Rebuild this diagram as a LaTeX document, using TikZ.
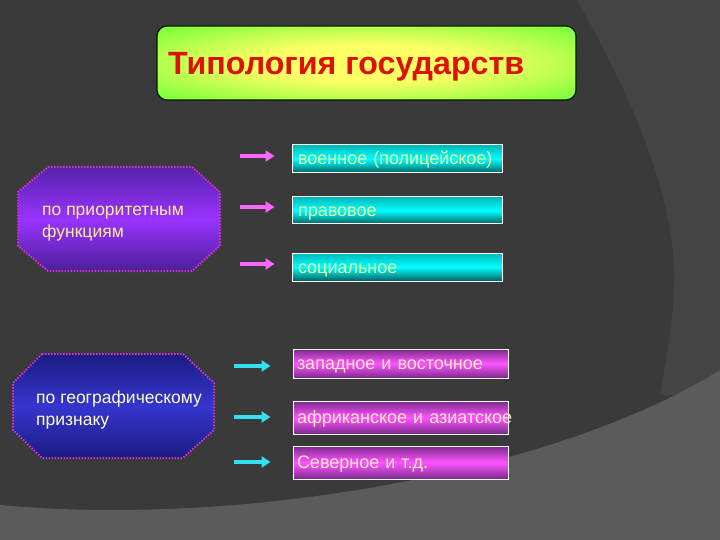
\documentclass[tikz,border=0pt]{standalone}
\usepackage{fontspec}
\setmainfont{Liberation Sans}
\usetikzlibrary{arrows.meta,shadings}
\definecolor{bgdark}{HTML}{3A3A3A}
\definecolor{bgmid}{HTML}{444444}
\definecolor{bglight}{HTML}{5B5B5B}
\definecolor{ttyel}{HTML}{FFFF66}
\definecolor{ttgreen}{HTML}{66FF33}
\definecolor{ttred}{HTML}{DD1100}
\definecolor{arrpink}{HTML}{FF66FF}
\definecolor{arrcyan}{HTML}{33E0F0}
\definecolor{cytop}{HTML}{00B8B8}
\definecolor{cymid}{HTML}{00FFFF}
\definecolor{cybot}{HTML}{006060}
\definecolor{cytext}{HTML}{E8FFA0}
\definecolor{mgedge}{HTML}{7A2A8C}
\definecolor{mgmid}{HTML}{FF55FF}
\definecolor{mgtext}{HTML}{FFE8C8}
\definecolor{pu1}{HTML}{5522AA}
\definecolor{pu2}{HTML}{9933FF}
\definecolor{putext}{HTML}{FFEE99}
\definecolor{bl1}{HTML}{1C1C80}
\definecolor{bl2}{HTML}{3535D0}
\definecolor{bltext}{HTML}{FFFFCC}
\definecolor{dotmag}{HTML}{CC33CC}
\pgfdeclareradialshading{titleglow}{\pgfpoint{0bp}{0bp}}{color(0bp)=(ttyel); color(12bp)=(ttyel); color(38bp)=(ttgreen); color(50bp)=(ttgreen)}
\tikzset{
  titlebox/.style={rectangle, rounded corners=10pt, draw={black!70!green!30!black}, line width=1.2pt, shading=titleglow, minimum width=419pt, minimum height=74pt, inner sep=0pt},
  cbox/.style={rectangle, draw=white, line width=1pt, top color=cytop, bottom color=cybot, middle color=cymid, minimum height=28pt, text width=198pt, inner xsep=6pt, inner ysep=0pt, text height=13pt, text depth=1pt, align=left, font=\fontsize{18}{20}\selectfont, text=cytext},
  mbox/.style={rectangle, draw=white, line width=1pt, top color=mgedge, bottom color=mgedge, middle color=mgmid, text width=207pt, inner xsep=4pt, inner ysep=0pt, text height=13pt, text depth=1pt, align=left, font=\fontsize{18}{20}\selectfont, text=mgtext},
  octo/.style={line width=2pt, draw=dotmag, dash pattern=on 1.5pt off 1.5pt},
  octtext/.style={anchor=base west, align=left, inner sep=0pt, font=\fontsize{17.5}{22}\selectfont},
  parr/.style={draw=arrpink, line width=4pt, -{Triangle[length=9pt,width=11pt]}},
  carr/.style={draw=arrcyan, line width=4pt, -{Triangle[length=9pt,width=11pt]}},
}
\begin{document}
\begin{tikzpicture}[x=1pt,y=-1pt]
\useasboundingbox (0,0) rectangle (720,540);
% background
\fill[bgdark] (0,0) rectangle (720,540);
\fill[bgmid] (577,0) .. controls (640,110) and (678,210) .. (674,290) .. controls (672,330) and (666,360) .. (660,395) -- (720,395) -- (720,0) -- cycle;
\fill[bglight] (0,505) .. controls (250,528) and (560,470) .. (720,370) -- (720,540) -- (0,540) -- cycle;
% title
\node[titlebox] (title) at (366.5,63) {};
\node[anchor=base west, inner sep=0pt, font=\bfseries\fontsize{32.2}{34}\selectfont, text=ttred] (titletext) at (168,75) {Типология государств};
% octagon 1
\path[octo, top color=pu1, bottom color=pu1!90!black, middle color=pu2]
  (48,167) -- (192,167) -- (220,192) -- (220,246) -- (192,271) -- (48,271) -- (18,246) -- (18,192) -- cycle;
\node[octtext, text=putext] (prio) at (42,237) {по приоритетным\\функциям};
% octagon 2
\path[octo, top color=bl1, bottom color=bl1, middle color=bl2]
  (42,354) -- (183,354) -- (214,383) -- (214,430) -- (183,458) -- (42,458) -- (13,430) -- (13,383) -- cycle;
\node[octtext, text=bltext] (geo) at (36,425) {по географическому\\признаку};
% cyan boxes
\node[cbox, minimum height=28pt] (c1) at (397,159) {военное (полицейское)};
\node[cbox, minimum height=27pt] (c2) at (397,210.5) {правовое};
\node[cbox, minimum height=28pt] (c3) at (397,267) {социальное};
% magenta boxes
\node[mbox, minimum height=29pt] (m1) at (400.5,363.5) {западное и восточное};
\node[mbox, minimum height=33pt] (m2) at (400.5,417.5) {\mbox{африканское и азиатское}};
\node[mbox, minimum height=33pt] (m3) at (400.5,462.5) {Северное и т.д.};
% arrows
\coordinate (pa1) at (240,156);
\coordinate (pa2) at (240,207);
\coordinate (pa3) at (240,264);
\draw[parr] (pa1) -- ([xshift=-17pt]c1.west |- pa1);
\draw[parr] (pa2) -- ([xshift=-17pt]c2.west |- pa2);
\draw[parr] (pa3) -- ([xshift=-17pt]c3.west |- pa3);
\coordinate (ca1) at (234,366);
\coordinate (ca2) at (234,417);
\coordinate (ca3) at (234,462);
\draw[carr] (ca1) -- ([xshift=-22pt]m1.west |- ca1);
\draw[carr] (ca2) -- ([xshift=-22pt]m2.west |- ca2);
\draw[carr] (ca3) -- ([xshift=-22pt]m3.west |- ca3);
\end{tikzpicture}
\end{document}
